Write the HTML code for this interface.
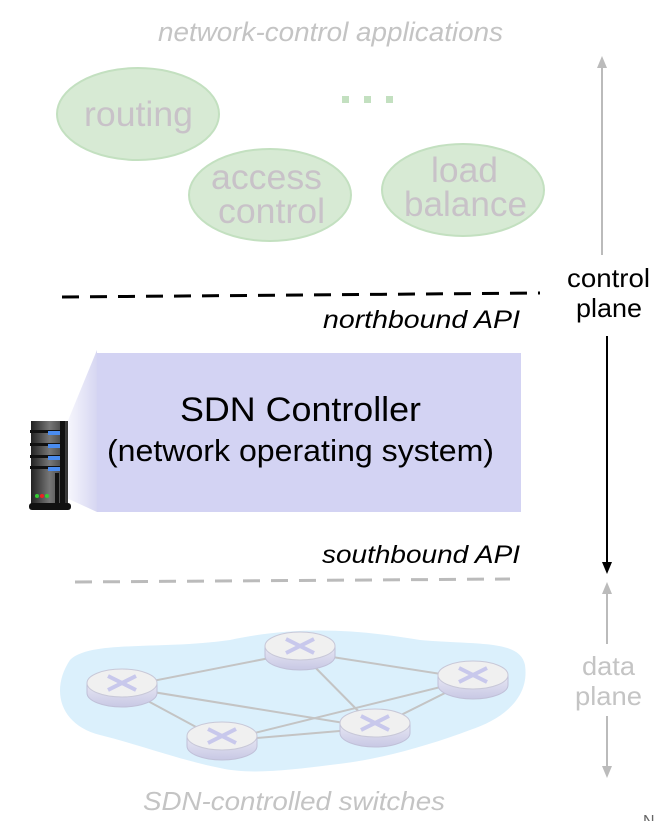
<!DOCTYPE html>
<html><head><meta charset="utf-8"><style>
html,body{margin:0;padding:0;background:#fff;}
svg{display:block;font-family:"Liberation Sans",sans-serif;}
</style></head><body>
<svg width="657" height="821" viewBox="0 0 657 821" xmlns="http://www.w3.org/2000/svg">
<defs>
<linearGradient id="wedge" x1="0" x2="1" y1="0" y2="0">
<stop offset="0" stop-color="#ffffff"/><stop offset="1" stop-color="#d6d6f2"/></linearGradient>
<linearGradient id="srv" x1="0" x2="1"><stop offset="0" stop-color="#222"/><stop offset="0.5" stop-color="#777"/><stop offset="1" stop-color="#333"/></linearGradient>
<linearGradient id="rside" x1="0" x2="0" y1="0" y2="1"><stop offset="0" stop-color="#e8e8f4"/><stop offset="1" stop-color="#c8c8e4"/></linearGradient>
</defs>
<text x="158" y="41" font-size="27" font-style="italic" fill="#c4c4c4" textLength="345" lengthAdjust="spacingAndGlyphs">network-control applications</text>
<g fill="#d7ead4" stroke="#c3e0c0" stroke-width="2">
<ellipse cx="138" cy="114" rx="81" ry="46"/>
<ellipse cx="270" cy="195" rx="81" ry="46"/>
<ellipse cx="463" cy="190" rx="81" ry="46"/>
</g>
<g fill="#c3e0c0"><rect x="342" y="96" width="7" height="7"/><rect x="364" y="96" width="7" height="7"/><rect x="386" y="96" width="7" height="7"/></g>
<g font-size="35" fill="#c8c2c8">
<text x="84" y="126" textLength="109" lengthAdjust="spacingAndGlyphs">routing</text>
<text x="211" y="189" textLength="111" lengthAdjust="spacingAndGlyphs">access</text>
<text x="218" y="223" textLength="107" lengthAdjust="spacingAndGlyphs">control</text>
<text x="431" y="182" textLength="67" lengthAdjust="spacingAndGlyphs">load</text>
<text x="404" y="216" textLength="123" lengthAdjust="spacingAndGlyphs">balance</text>
</g>
<line x1="62" y1="297" x2="540" y2="293" stroke="#000" stroke-width="3" stroke-dasharray="17,11"/>
<text x="323" y="328" font-size="25" font-style="italic" fill="#000" textLength="197" lengthAdjust="spacingAndGlyphs">northbound API</text>
<polygon points="97,350 97,512 60,495 60,440" fill="url(#wedge)"/>
<rect x="97" y="353" width="424" height="159" fill="#d3d3f3"/>
<text x="180" y="421" font-size="34" fill="#000" textLength="241" lengthAdjust="spacingAndGlyphs">SDN Controller</text>
<text x="107" y="461" font-size="31" fill="#000" textLength="387" lengthAdjust="spacingAndGlyphs">(network operating system)</text>
<g>
<rect x="31" y="421" width="37" height="85" fill="url(#srv)"/>
<rect x="60" y="421" width="5" height="85" fill="#111"/>
<rect x="29" y="503" width="42" height="7" rx="3" fill="#111"/>
<g fill="#111"><rect x="30" y="430" width="32" height="3"/><rect x="30" y="443" width="32" height="3"/><rect x="30" y="455" width="32" height="3"/><rect x="30" y="466" width="32" height="3"/></g>
<g fill="#4a8cf0"><rect x="48" y="431" width="12" height="4"/><rect x="48" y="444" width="12" height="4"/><rect x="48" y="456" width="12" height="4"/><rect x="48" y="467" width="12" height="4"/></g>
<rect x="55" y="473" width="4" height="30" fill="#111"/>
<circle cx="37" cy="496" r="2" fill="#3c3"/><circle cx="42" cy="496" r="2" fill="#e22"/><circle cx="47" cy="496" r="2" fill="#3c3"/>
</g>
<text x="322" y="563" font-size="25" font-style="italic" fill="#000" textLength="198" lengthAdjust="spacingAndGlyphs">southbound API</text>
<line x1="75" y1="582" x2="510" y2="579" stroke="#bbbbbb" stroke-width="3" stroke-dasharray="17,11"/>
<line x1="602" y1="65" x2="602" y2="255" stroke="#bbb" stroke-width="2"/>
<polygon points="602,56 597,68 607,68" fill="#bbb"/>
<text x="567" y="287" font-size="26" fill="#000" textLength="83" lengthAdjust="spacingAndGlyphs">control</text>
<text x="576" y="317" font-size="26" fill="#000" textLength="66" lengthAdjust="spacingAndGlyphs">plane</text>
<line x1="607" y1="336" x2="607" y2="564" stroke="#000" stroke-width="2"/>
<polygon points="607,574 602,562 612,562" fill="#000"/>
<line x1="607" y1="592" x2="607" y2="644" stroke="#bbb" stroke-width="2"/>
<polygon points="607,582 602,594 612,594" fill="#bbb"/>
<text x="582" y="675" font-size="26" fill="#c4c4c4" textLength="53" lengthAdjust="spacingAndGlyphs">data</text>
<text x="575" y="705" font-size="26" fill="#c4c4c4" textLength="67" lengthAdjust="spacingAndGlyphs">plane</text>
<line x1="607" y1="716" x2="607" y2="768" stroke="#bbb" stroke-width="2"/>
<polygon points="607,778 602,766 612,766" fill="#bbb"/>
<path d="M70,660 C90,640 160,650 230,640 C300,625 360,630 420,640 C480,645 520,640 525,665 C530,700 500,720 470,730 C430,745 380,760 330,765 C290,770 250,775 220,768 C180,760 140,745 100,735 C60,725 50,690 70,660 Z" fill="#dbf0fc"/>
<g stroke="#c4c4c4" stroke-width="2">
<line x1="122" y1="687" x2="300" y2="652"/>
<line x1="300" y1="652" x2="473" y2="679"/>
<line x1="122" y1="687" x2="375" y2="728"/>
<line x1="122" y1="687" x2="222" y2="741"/>
<line x1="300" y1="652" x2="375" y2="728"/>
<line x1="222" y1="741" x2="473" y2="679"/>
<line x1="222" y1="741" x2="375" y2="728"/>
<line x1="375" y1="728" x2="473" y2="679"/>
</g>
<g>
<g id="r">
<path d="M-35,0 L-35,10 A35,14 0 0 0 35,10 L35,0 Z" fill="url(#rside)" stroke="#c0c0d8" stroke-width="1"/>
<ellipse cx="0" cy="0" rx="35" ry="14" fill="#f0f0f0" stroke="#c8c8d8" stroke-width="1"/>
<g stroke="#c8c8ec" stroke-width="4"><line x1="-14" y1="-7" x2="14" y2="7"/><line x1="14" y1="-7" x2="-14" y2="7"/></g>
</g>
</g>
<use href="#r" x="122" y="683"/>
<use href="#r" x="300" y="646"/>
<use href="#r" x="473" y="675"/>
<use href="#r" x="375" y="723"/>
<use href="#r" x="222" y="736"/>
<rect x="-40" y="-20" width="80" height="50" fill="#fff"/>
<text x="143" y="810" font-size="26" font-style="italic" fill="#c4c4c4" textLength="302" lengthAdjust="spacingAndGlyphs">SDN-controlled switches</text>
<text x="643" y="826" font-size="16" fill="#666">N</text>
</svg>
</body></html>
